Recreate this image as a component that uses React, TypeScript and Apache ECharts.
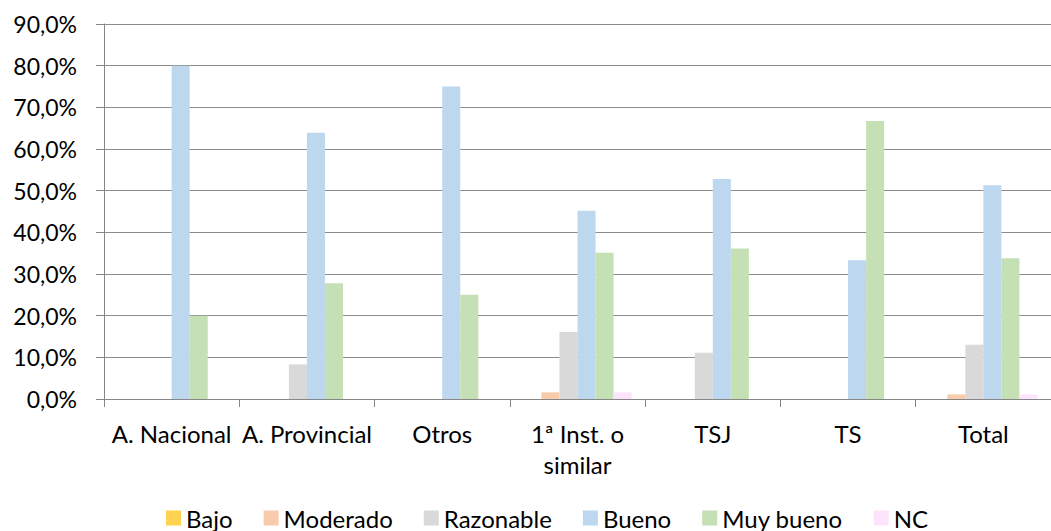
import React, { useEffect, useRef } from "react";
import * as echarts from "echarts";

const categories = ["A. Nacional", "A. Provincial", "Otros", "1ª Inst. o\nsimilar", "TSJ", "TS", "Total"];
const seriesNames = ["Bajo", "Moderado", "Razonable", "Bueno", "Muy bueno", "NC"];
const bajo = [0, 0, 0, 0, 0, 0, 0];
const moderado = [0, 0, 0, 1.6, 0, 0, 1.1];
const razonable = [0, 8.3, 0, 16.1, 11.1, 0, 13.0];
const bueno = [80.0, 63.9, 75.0, 45.2, 52.8, 33.3, 51.3];
const muyBueno = [20.0, 27.8, 25.0, 35.1, 36.1, 66.7, 33.8];
const nc = [0, 0, 0, 1.6, 0, 0, 1.1];
const colors = ["#FFD34F", "#F8CBAD", "#D9D9D9", "#BDD7EE", "#C5E0B4", "#FCE4FC"];
const yTicks = { min: 0, max: 90, interval: 10 };

const FONT = "Lato";

export default function App() {
  const ref = useRef<HTMLDivElement>(null);
  useEffect(() => {
    if (!ref.current) return;
    const chart = echarts.init(ref.current, undefined, { renderer: "svg" });
    const values = [bajo, moderado, razonable, bueno, muyBueno, nc];
    chart.setOption({
      animation: false,
      backgroundColor: "#ffffff",
      textStyle: { fontFamily: FONT },
      grid: { left: 104, top: 24, width: 956, height: 375 },
      legend: {
        left: 166,
        top: 506,
        padding: 0,
        itemWidth: 15,
        itemHeight: 15,
        itemGap: 31,
        icon: "rect",
        textStyle: { fontSize: 24, lineHeight: 22, color: "#000000", fontFamily: FONT },
        data: seriesNames,
      },
      xAxis: {
        type: "category",
        data: categories,
        axisLine: { show: true, lineStyle: { color: "#868686", width: 1 } },
        axisTick: { show: true, length: 8, interval: 0, alignWithLabel: false, lineStyle: { color: "#868686" } },
        axisLabel: { interval: 0, fontSize: 24, color: "#000000", margin: 19, lineHeight: 31, fontFamily: FONT },
        splitLine: { show: false },
      },
      yAxis: {
        type: "value",
        min: yTicks.min,
        max: yTicks.max,
        interval: yTicks.interval,
        axisLine: { show: true, lineStyle: { color: "#868686", width: 1 } },
        axisTick: { show: true, length: 8, lineStyle: { color: "#868686" } },
        axisLabel: {
          fontSize: 23,
          color: "#000000",
          margin: 27,
          fontFamily: FONT,
          formatter: (v: number) => v.toFixed(1).replace(".", ",") + "%",
        },
        splitLine: { show: true, lineStyle: { color: "#8c8c8c", width: 1 } },
      },
      series: seriesNames.map((name, i) => ({
        name,
        type: "bar",
        data: values[i],
        barGap: "0%",
        barCategoryGap: "20%",
        itemStyle: { color: colors[i] },
      })),
    });
    return () => chart.dispose();
  }, []);
  return (
    <div
      ref={ref}
      style={{ position: "fixed", left: 0, top: 0, width: 1051, height: 531, overflow: "hidden", background: "#fff" }}
    />
  );
}
